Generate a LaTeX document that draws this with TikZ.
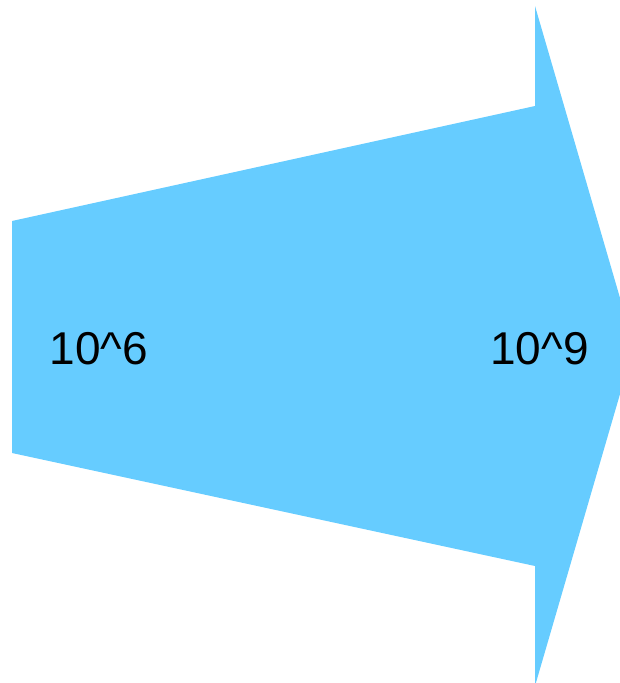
\documentclass[tikz,border=0pt]{standalone}
\usepackage{fontspec}
\setmainfont{Liberation Sans}
\usepackage{tikz}
\usetikzlibrary{positioning}
\definecolor{flowblue}{HTML}{66CCFF}

\begin{document}
\begin{tikzpicture}[
  x=1pt, y=-1pt,
  scale=1.0,
  mag/.style={font=\fontsize{46}{55}\selectfont, text=black, inner sep=0pt},
]

% --- Page frame ---
\useasboundingbox (0, 0) rectangle (620, 683);
\clip (0, 0) rectangle (620, 683);

% --- Widening arrow ---
\fill[flowblue] (12, 221) -- (535, 106) -- (535, 6) -- (634, 346)
  -- (535, 686) -- (535, 566) -- (12, 453) -- cycle;

% --- Labels ---
\node[mag] (start) at (99, 349) {10\^{}6};
\node[mag] (finish) at (539.5, 349) {10\^{}9};

\end{tikzpicture}
\end{document}
